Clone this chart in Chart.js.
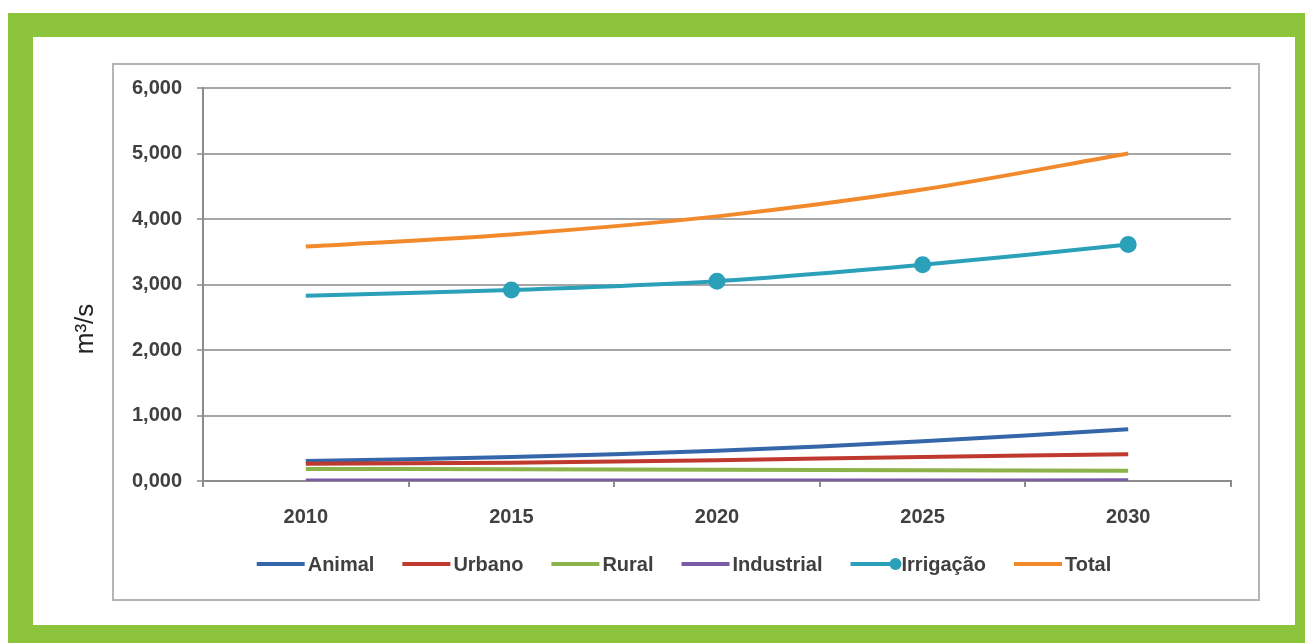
<!DOCTYPE html>
<html>
<head>
<meta charset="utf-8">
<script src="https://cdn.jsdelivr.net/npm/chart.js@4/dist/chart.umd.min.js"></script>
<style>
  body { margin: 0; background: #fff; width: 1305px; height: 643px; overflow: hidden; position: relative; }
  #frame { position: absolute; left: 8px; top: 13px; width: 1297px; height: 630px; background: #8cc43c; }
  #inner { position: absolute; left: 33px; top: 37px; width: 1262px; height: 588px; background: #fff; }
  #box { position: absolute; left: 112px; top: 63px; width: 1144px; height: 534px; border: 2px solid #b4b4b4; }
  #chart { position: absolute; left: 0; top: 0; }
</style>
</head>
<body>
<div id="frame"></div>
<div id="inner"></div>
<div id="box"></div>
<canvas id="chart" width="1305" height="643"></canvas>
<script>
const years = ["2010", "2015", "2020", "2025", "2030"];
const animal = [305, 365, 460, 605, 790];
const urbano = [265, 280, 318, 368, 410];
const rural = [185, 178, 170, 163, 157];
const industrial = [8, 8, 9, 9, 10];
const irrigacao = [2830, 2915, 3050, 3300, 3610];
const total = [3580, 3765, 4040, 4450, 5000];
const yTickLabels = ["0,000", "1,000", "2,000", "3,000", "4,000", "5,000", "6,000"];

const seriesNames = ["Animal", "Urbano", "Rural", "Industrial", "Irrigação", "Total"];
const seriesData = [animal, urbano, rural, industrial, irrigacao, total];
const seriesColors = ["#3466a9", "#c0392f", "#8cb24a", "#7b5aa6", "#2aa0b9", "#f28a2c"];

const FONT = "'Liberation Sans', Arial, sans-serif";

// the source shows no marker on the first Irrigação point
const markerRadius = (name) => name === "Irrigação" ? years.map((y, i) => (i === 0 ? 0 : 6.5)) : 0;

// legend drawn by hand so the Irrigação entry can show line + marker
const legendPlugin = {
  id: "excelLegend",
  afterDraw(chart) {
    const ctx = chart.ctx;
    const y = 564;
    const lineLen = 48;
    const gap = 3;
    const spacing = 28;
    ctx.save();
    ctx.font = "bold 20px " + FONT;
    const widths = chart.data.datasets.map(ds => lineLen + gap + ctx.measureText(ds.label).width);
    const totalW = widths.reduce((a, b) => a + b, 0) + spacing * (widths.length - 1);
    let x = 684 - totalW / 2;
    chart.data.datasets.forEach((ds, i) => {
      ctx.strokeStyle = ds.borderColor;
      ctx.lineWidth = 4;
      ctx.beginPath();
      ctx.moveTo(x, y);
      ctx.lineTo(x + lineLen, y);
      ctx.stroke();
      if (Array.isArray(ds.pointRadius)) {
        ctx.fillStyle = ds.borderColor;
        ctx.beginPath();
        ctx.arc(x + lineLen - 3, y, 6, 0, Math.PI * 2);
        ctx.fill();
      }
      ctx.fillStyle = "#404040";
      ctx.textBaseline = "middle";
      ctx.textAlign = "left";
      ctx.fillText(ds.label, x + lineLen + gap, y + 1);
      x += widths[i] + spacing;
    });
    ctx.restore();
  }
};

// y title sits outside the chart box, off-centre, as in the source
const yTitlePlugin = {
  id: "yTitle",
  afterDraw(chart) {
    const ctx = chart.ctx;
    ctx.save();
    ctx.translate(86, 329);
    ctx.rotate(-Math.PI / 2);
    ctx.font = "26px " + FONT;
    ctx.fillStyle = "#222";
    ctx.textAlign = "center";
    ctx.textBaseline = "middle";
    ctx.fillText("m³/s", 0, 0);
    ctx.restore();
  }
};

new Chart(document.getElementById("chart"), {
  type: "line",
  data: {
    labels: years,
    datasets: seriesNames.map((name, i) => ({
      label: name,
      data: seriesData[i],
      borderColor: seriesColors[i],
      backgroundColor: seriesColors[i],
      borderWidth: 4,
      tension: 0.3,
      pointRadius: markerRadius(name),
      pointHoverRadius: markerRadius(name),
      order: seriesNames.length - i,
    })),
  },
  options: {
    responsive: false,
    animation: false,
    layout: {
      padding: { left: 20, right: 74, top: 88, bottom: 118 },
    },
    plugins: {
      legend: { display: false },
      tooltip: { enabled: false },
    },
    scales: {
      x: {
        offset: true,
        grid: {
          offset: true,
          drawOnChartArea: false,
          tickLength: 6,
          color: "#8c8c8c",
          lineWidth: 2,
        },
        border: { color: "#8c8c8c", width: 2 },
        ticks: {
          padding: 18,
          color: "#404040",
          font: { family: FONT, size: 20, weight: "bold" },
        },
        afterFit(scale) { scale.height = 44; },
      },
      y: {
        min: 0,
        max: 6000,
        ticks: {
          stepSize: 1000,
          padding: 15,
          color: "#404040",
          font: { family: FONT, size: 20, weight: "bold" },
          callback: (v, i) => yTickLabels[i],
        },
        grid: {
          color: "#a6a6a6",
          lineWidth: 2,
          tickLength: 6,
        },
        border: { color: "#8c8c8c", width: 2 },
        afterFit(scale) { scale.width = 183; },
      },
    },
  },
  plugins: [legendPlugin, yTitlePlugin],
});
</script>
</body>
</html>
